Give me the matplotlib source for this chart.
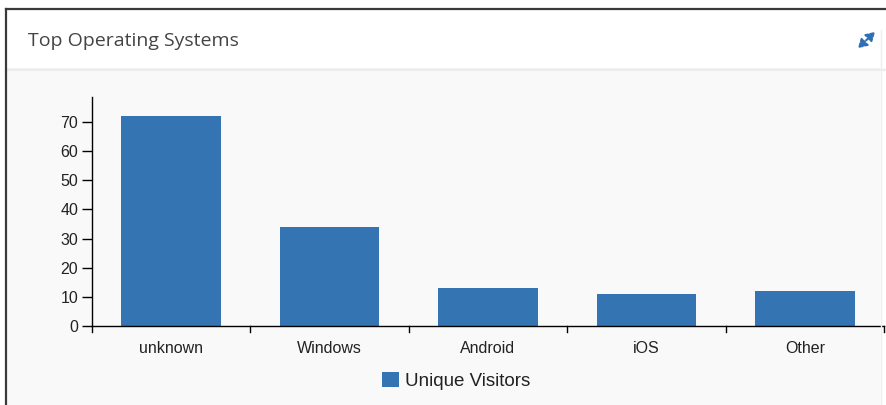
import matplotlib
matplotlib.use("Agg")
import matplotlib.pyplot as plt
from matplotlib.patches import Rectangle, FancyArrowPatch
from matplotlib.lines import Line2D

categories = ["unknown", "Windows", "Android", "iOS", "Other"]
visitors = [72, 34, 13, 11, 12]
yticks = [0, 10, 20, 30, 40, 50, 60, 70]
title = "Top Operating Systems"
series_name = "Unique Visitors"

W, H = 886, 405
fig = plt.figure(figsize=(W / 100, H / 100), dpi=100)
fig.patch.set_facecolor("white")

def fx(px):
    return px / W

def fy(py):
    return 1 - py / H

# card body background
fig.add_artist(Rectangle((fx(6), 0), fx(880 - 6), fy(68), transform=fig.transFigure,
                         facecolor="#f9f9f9", edgecolor="none", zorder=0))
# header background
fig.add_artist(Rectangle((fx(6), fy(68)), fx(880 - 6), fy(9) - fy(68), transform=fig.transFigure,
                         facecolor="white", edgecolor="none", zorder=0))
# header separator with soft shadow
fig.add_artist(Line2D([fx(6), fx(886)], [fy(68.5), fy(68.5)], transform=fig.transFigure,
                      color="#dcdcdc", lw=1.0))
fig.add_artist(Line2D([fx(6), fx(886)], [fy(70), fy(70)], transform=fig.transFigure,
                      color="#ececec", lw=1.5))
# outer borders
fig.add_artist(Line2D([fx(5.5), fx(5.5)], [0, fy(9)], transform=fig.transFigure,
                      color="#3a3a3a", lw=1.6))
fig.add_artist(Line2D([fx(5.5), fx(886)], [fy(9), fy(9)], transform=fig.transFigure,
                      color="#3a3a3a", lw=1.6))
fig.add_artist(Line2D([fx(881), fx(881)], [0, fy(30)], transform=fig.transFigure,
                      color="#eeeeee", lw=1.0))

# title
fig.text(fx(28), fy(41), title, fontsize=14, family="Open Sans", color="#444444",
         ha="left", va="center")

# expand icon
icon_color = "#2f6fb5"
fig.add_artist(FancyArrowPatch((fx(856), fy(50)), (fx(877), fy(30)), transform=fig.transFigure,
                               arrowstyle="<|-|>,head_length=5,head_width=3",
                               color=icon_color, lw=1.5, linestyle=(0, (1.2, 1.0))))

# axes
ax = fig.add_axes([fx(92), 1 - 326 / H, fx(884 - 92), (326 - 97) / H])
ax.set_facecolor("none")
x = list(range(len(categories)))
bar_color = "#3474b3"
ax.bar(x, visitors, width=0.63, color=bar_color, zorder=2, label=series_name)
ax.set_xlim(-0.5, len(categories) - 0.5)
ax.set_ylim(0, 78.6)
ax.set_yticks(yticks)
ax.set_yticklabels([str(t) for t in yticks], fontsize=11.5, family="Liberation Sans", color="#222222")
ax.set_xticks(x)
ax.set_xticklabels(categories, fontsize=11.5, family="Liberation Sans", color="#222222")
ax.tick_params(axis="x", length=0, pad=11)
ax.tick_params(axis="y", length=7, width=1, color="black", pad=3)
# boundary ticks on x axis
for b in [i - 0.5 for i in range(len(categories) + 1)]:
    ax.plot([b, b], [0, -0.026], transform=ax.get_xaxis_transform(), color="black",
            lw=1, clip_on=False)
for s in ["top", "right"]:
    ax.spines[s].set_visible(False)
ax.spines["left"].set_linewidth(1)
ax.spines["bottom"].set_linewidth(1)

# legend
leg = fig.legend(loc="center", bbox_to_anchor=(fx(456), fy(381)), frameon=False,
                 prop={"family": "Liberation Sans", "size": 13.5}, handlelength=0.9,
                 handleheight=0.9, handletextpad=0.3, labelcolor="#222222")

fig.savefig("out.png", dpi=100, facecolor=fig.get_facecolor())
